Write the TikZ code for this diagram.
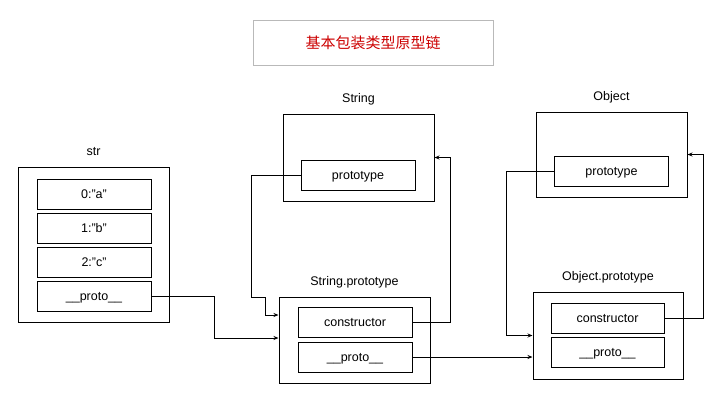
\documentclass[tikz,border=0pt]{standalone}
\usepackage{fontspec}
\setmainfont{Liberation Sans}
\newfontfamily\cjk{Noto Sans CJK SC}
\usetikzlibrary{positioning, calc, arrows.meta}
\definecolor{titlered}{RGB}{204,0,0}

\begin{document}
\begin{tikzpicture}[x=1pt, y=-1pt,
        font=\fontsize{12.5}{14}\selectfont,
        obj/.style={draw, line width=1pt, minimum width=151pt},
        field/.style={draw, line width=1pt, minimum width=114pt, minimum height=30pt,
                      text height=10pt, text depth=2pt},
        tag/.style={text height=10pt, text depth=2pt},
        link/.style={->, >={Stealth[length=5pt, width=4pt]}, line width=1pt}]
        \useasboundingbox (0,0) rectangle (722,400);

        % title
        \node[draw=gray!55, minimum width=240pt, minimum height=45pt, text=titlered,
              font=\cjk\fontsize{15}{18}\selectfont] (title) at (373,42.5) {基本包装类型原型链};

        % str
        \node[obj, minimum height=155pt] (str) at (93.5,244.5) {};
        \node[tag, above=5pt of str] (strlabel) {str};
        \node[field] (str0) at (94,194) {0:"a"};
        \node[field] (str1) at (94,228) {1:"b"};
        \node[field] (str2) at (94,262) {2:"c"};
        \node[field] (strproto) at (94,296) {\_\_proto\_\_};

        % String
        \node[obj, minimum height=87pt] (string) at (358.5,157.5) {};
        \node[tag, above=5pt of string] (stringlabel) {String};
        \node[field] (stringproto) at (358,175) {prototype};

        % String.prototype
        \node[obj, minimum height=86pt] (sp) at (354.5,340) {};
        \node[tag, above=5pt of sp] (splabel) {String.prototype};
        \node[field] (spcons) at (355,322) {constructor};
        \node[field] (spproto) at (355,357) {\_\_proto\_\_};

        % Object
        \node[obj, minimum height=85pt] (object) at (611.5,154.5) {};
        \node[tag, above=5pt of object] (objectlabel) {Object};
        \node[field] (objectproto) at (611.5,171.5) {prototype};

        % Object.prototype
        \node[obj, minimum width=150pt, minimum height=87pt] (op) at (608,335.5) {};
        \node[tag, above=5pt of op] (oplabel) {Object.prototype};
        \node[field, minimum width=113pt] (opcons) at (607.5,318) {constructor};
        \node[field, minimum width=113pt] (opproto) at (607.5,352) {\_\_proto\_\_};

        % links
        \draw[link] (strproto.east) -- ++(63,0) |- ([yshift=2pt]sp.west);
        \draw[link] (stringproto.west) -- ++(-49,0) -- ++(0,122) -- ++(14,0) |- ([yshift=25pt]sp.west);
        \draw[link] (spcons.east) -- ++(38,0) |- (string.east);
        \draw[link] (spproto.east) -- (spproto.east -| op.west);
        \draw[link] (objectproto.west) -- ++(-48,0) |- (op.west);
        \draw[link] (opcons.east) -- ++(39,0) |- (object.east);
\end{tikzpicture}
\end{document}
